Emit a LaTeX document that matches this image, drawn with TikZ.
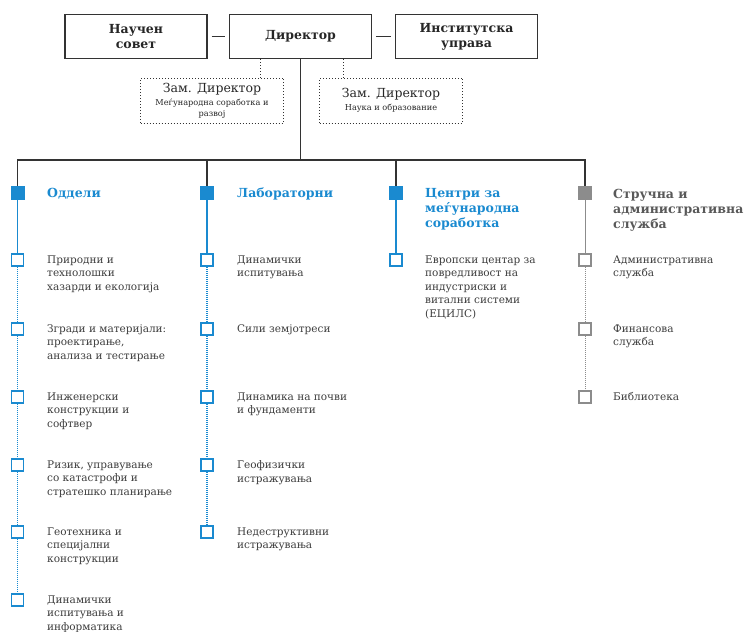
\documentclass[tikz,border=0pt]{standalone}
\usepackage{fontspec}
\setmainfont{DejaVu Serif}
\usetikzlibrary{positioning}
\definecolor{ciblue}{HTML}{1A8AD0}
\definecolor{cigray}{HTML}{8C8C8C}
\definecolor{boxgray}{HTML}{333333}
\definecolor{txtgray}{HTML}{3C3C3C}
\newcommand{\zamsub}[1]{{\fontsize{8.2}{10}\selectfont #1}}
\tikzset{
  topbox/.style={draw=boxgray,line width=1.4pt,minimum width=142pt,minimum height=44pt,align=center,
    font=\fontsize{12.5}{15}\selectfont\bfseries,text=black!85},
  zambox/.style={draw=boxgray,dotted,line width=1pt,minimum width=143pt,minimum height=45pt,align=center,
    font=\fontsize{12.5}{14}\selectfont,text=black!85,inner sep=2pt},
  bus/.style={draw=boxgray,line width=1.3pt},
  headsq/.style={fill=#1,minimum size=14pt,inner sep=0},
  itemsq/.style={draw=#1,line width=1.6pt,fill=white,minimum size=12pt,inner sep=0},
  headtxt/.style={anchor=north west,inner sep=0,align=left,font=\fontsize{12.5}{15}\selectfont\bfseries,text=#1},
  itemtxt/.style={anchor=north west,inner sep=0,align=left,font=\fontsize{10.5}{13.5}\selectfont,text=txtgray},
  solidlink/.style={draw=#1,line width=1.3pt},
  dotlink/.style={draw=#1,line width=1.2pt,dash pattern=on 1pt off 1pt}
}
\begin{document}
\begin{tikzpicture}[x=1pt,y=-1pt]
\useasboundingbox (0,0) rectangle (745,632);
% upper level
\node[topbox] (sov) at (136,36.5) {Научен\\совет};
\node[topbox] (dir) at (300.5,36.5) {Директор};
\node[topbox] (upr) at (466.5,36.5) {Институтска\\управа};
\draw[bus,shorten <=4pt,shorten >=4pt] (sov) -- (dir);
\draw[bus,shorten <=4pt,shorten >=4pt] (dir) -- (upr);
\node[zambox] (zam1) at (212,100.5) {Зам. Директор\\[-1pt]\zamsub{Меѓународна соработка и}\\[-3pt]\zamsub{развој}};
\node[zambox] (zam2) at (391,100.5) {Зам. Директор\\[-1pt]\zamsub{Наука и образование}};
\draw[draw=boxgray,dotted,line width=1pt] (dir.south -| 260,0) -- (zam1.north -| 260,0);
\draw[draw=boxgray,dotted,line width=1pt] (dir.south -| 343,0) -- (zam2.north -| 343,0);
\coordinate (bus) at (0,160);
% headings
\node[headsq=ciblue] (h1) at (17.5,193) {};
\node[headsq=ciblue] (h2) at (207,193) {};
\node[headsq=ciblue] (h3) at (396,193) {};
\node[headsq=cigray] (h4) at (585,193) {};
\draw[bus] (dir.south) -- (dir.south |- bus);
\draw[bus] (h1.north) -- (h1.north |- bus) -- (h4.north |- bus) -- (h4.north);
\draw[bus] (h2.north) -- (h2.north |- bus);
\draw[bus] (h3.north) -- (h3.north |- bus);
\node[headtxt=ciblue] (ht1) at (47,188) {Оддели};
\node[headtxt=ciblue] (ht2) at (237,188) {Лабораторни};
\node[headtxt=ciblue] (ht3) at (425,188) {Центри за\\меѓународна\\соработка};
\node[headtxt=black!65] (ht4) at (613,189) {Стручна и\\административна\\служба};
% Оддели
\node[itemsq=ciblue] (a1) at (17.5,260) {};
\node[itemsq=ciblue] (a2) at (17.5,329) {};
\node[itemsq=ciblue] (a3) at (17.5,397) {};
\node[itemsq=ciblue] (a4) at (17.5,465) {};
\node[itemsq=ciblue] (a5) at (17.5,532) {};
\node[itemsq=ciblue] (a6) at (17.5,600) {};
\draw[solidlink=ciblue] (h1) -- (a1);
\draw[dotlink=ciblue] (a1) -- (a2) (a2) -- (a3) (a3) -- (a4) (a4) -- (a5) (a5) -- (a6);
\node[itemtxt] (at1) at (47,255.5) {Природни и\\технолошки\\хазарди и екологија};
\node[itemtxt] (at2) at (47,324.5) {Згради и материјали:\\проектирање,\\анализа и тестирање};
\node[itemtxt] (at3) at (47,392.5) {Инженерски\\конструкции и\\софтвер};
\node[itemtxt] (at4) at (47,460.5) {Ризик, управување\\со катастрофи и\\стратешко планирање};
\node[itemtxt] (at5) at (47,527.5) {Геотехника и\\специјални\\конструкции};
\node[itemtxt] (at6) at (47,595.5) {Динамички\\испитувања и\\информатика};
% Лабораторни
\node[itemsq=ciblue] (b1) at (207,260) {};
\node[itemsq=ciblue] (b2) at (207,329) {};
\node[itemsq=ciblue] (b3) at (207,397) {};
\node[itemsq=ciblue] (b4) at (207,465) {};
\node[itemsq=ciblue] (b5) at (207,532) {};
\draw[solidlink=ciblue] (h2) -- (b1);
\draw[dotlink=ciblue] (b1) -- (b2) (b2) -- (b3) (b3) -- (b4) (b4) -- (b5);
\node[itemtxt] (bt1) at (237,255.5) {Динамички\\испитувања};
\node[itemtxt] (bt2) at (237,324.5) {Сили земјотреси};
\node[itemtxt] (bt3) at (237,392.5) {Динамика на почви\\и фундаменти};
\node[itemtxt] (bt4) at (237,460.5) {Геофизички\\истражувања};
\node[itemtxt] (bt5) at (237,527.5) {Недеструктивни\\истражувања};
% Центри
\node[itemsq=ciblue] (c1) at (396,260) {};
\draw[solidlink=ciblue] (h3) -- (c1);
\node[itemtxt] (ct1) at (425,255.5) {Европски центар за\\повредливост на\\индустриски и\\витални системи\\(ЕЦИЛС)};
% Стручна служба
\node[itemsq=cigray] (d1) at (585,260) {};
\node[itemsq=cigray] (d2) at (585,329) {};
\node[itemsq=cigray] (d3) at (585,397) {};
\draw[solidlink=cigray,line width=1pt] (h4) -- (d1);
\draw[dotlink=cigray,line width=1pt] (d1) -- (d2) (d2) -- (d3);
\node[itemtxt] (dt1) at (613,255.5) {Административна\\служба};
\node[itemtxt] (dt2) at (613,324.5) {Финансова\\служба};
\node[itemtxt] (dt3) at (613,392.5) {Библиотека};
\end{tikzpicture}
\end{document}
